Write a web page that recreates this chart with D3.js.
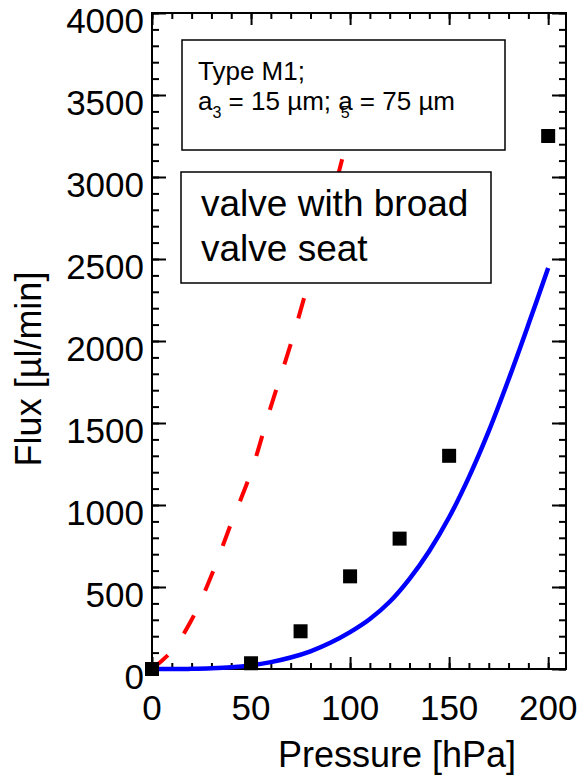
<!DOCTYPE html>
<html>
<head>
<meta charset="utf-8">
<script src="https://cdn.jsdelivr.net/npm/d3@7"></script>
<style>
  body { margin: 0; background: #fff; }
  text { font-family: "Liberation Sans", Arial, sans-serif; fill: #000; }
</style>
</head>
<body>
<svg width="584" height="777"></svg>
<script>
// pressure grid for model curves [hPa]
var modelPressure = [0, 10, 20, 30, 40, 50, 60, 70, 80, 90, 100, 110, 120, 130, 140, 150, 160, 170, 180, 190, 200];
// blue model curve, flux [ul/min]
var modelFlux = [0, 0, 1, 4, 10, 22, 42, 70, 108, 160, 225, 305, 410, 550, 720, 925, 1170, 1450, 1765, 2100, 2445];
// red dashed curve (only up to 100 hPa)
var dashPressure = [0, 10, 20, 30, 40, 50, 60, 70, 80, 90, 100];
var dashFlux = [0, 110, 300, 570, 890, 1200, 1600, 1980, 2400, 2830, 3300];
// measured points
var measPressure = [0, 50, 75, 100, 125, 150, 200];
var measFlux = [0, 35, 230, 565, 795, 1300, 3250];

var xTicks = [0, 50, 100, 150, 200];
var yTicks = [0, 500, 1000, 1500, 2000, 2500, 3000, 3500, 4000];

var svg = d3.select('svg');
var x = d3.scaleLinear().domain([0, 209]).range([152, 566]);
var y = d3.scaleLinear().domain([0, 4000]).range([669, 13]);

var minorX = d3.range(0, 210, 10);
var minorY = d3.range(0, 4001, 100);

// ticks: bottom, top, left, right (all pointing inward)
function tickAxis(axis, tr) {
    var g = svg.append('g').attr('transform', tr).call(axis);
    g.select('.domain').remove();
    g.selectAll('line').attr('stroke', '#000').attr('stroke-width', 2);
    g.selectAll('text').remove();
    return g;
}
tickAxis(d3.axisTop(x).tickValues(minorX).tickSize(6).tickFormat(''), 'translate(0,669)');
tickAxis(d3.axisTop(x).tickValues(xTicks).tickSize(12).tickFormat(''), 'translate(0,669)');
tickAxis(d3.axisBottom(x).tickValues(minorX).tickSize(6).tickFormat(''), 'translate(0,13)');
tickAxis(d3.axisBottom(x).tickValues(xTicks).tickSize(12).tickFormat(''), 'translate(0,13)');
tickAxis(d3.axisRight(y).tickValues(minorY).tickSize(7).tickFormat(''), 'translate(152,0)');
tickAxis(d3.axisRight(y).tickValues(yTicks).tickSize(14).tickFormat(''), 'translate(152,0)');
tickAxis(d3.axisLeft(y).tickValues(minorY).tickSize(7).tickFormat(''), 'translate(566,0)');
tickAxis(d3.axisLeft(y).tickValues(yTicks).tickSize(14).tickFormat(''), 'translate(566,0)');

// frame
svg.append('rect')
    .attr('x', x(0)).attr('y', y(4000))
    .attr('width', x(209) - x(0)).attr('height', y(0) - y(4000))
    .attr('fill', 'none').attr('stroke', '#000').attr('stroke-width', 2);

// tick labels
svg.append('g').selectAll('text').data(xTicks).enter().append('text')
    .attr('x', function(d) { return x(d); })
    .attr('y', 720)
    .attr('text-anchor', 'middle')
    .style('font-size', '35px')
    .text(function(d) { return d; });

svg.append('g').selectAll('text').data(yTicks).enter().append('text')
    .attr('x', 144)
    .attr('y', function(d) { return y(d) + 20; })
    .attr('text-anchor', 'end')
    .style('font-size', '35px')
    .text(function(d) { return d; });

// axis titles
svg.append('text')
    .attr('x', 397).attr('y', 767)
    .attr('text-anchor', 'middle')
    .style('font-size', '36px')
    .text('Pressure [hPa]');

svg.append('text')
    .attr('transform', 'translate(41,369) rotate(-90)')
    .attr('text-anchor', 'middle')
    .style('font-size', '36px')
    .text('Flux [µl/min]');

// curves
var line = d3.line()
    .x(function(d) { return x(d[0]); })
    .y(function(d) { return y(d[1]); })
    .curve(d3.curveCatmullRom);

svg.append('path')
    .datum(modelPressure.map(function(p, i) { return [p, modelFlux[i]]; }))
    .attr('d', line)
    .attr('fill', 'none')
    .attr('stroke', '#0000ff')
    .attr('stroke-width', 4.5);

svg.append('path')
    .datum(dashPressure.map(function(p, i) { return [p, dashFlux[i]]; }))
    .attr('d', line)
    .attr('fill', 'none')
    .attr('stroke', '#ff0000')
    .attr('stroke-width', 4)
    .attr('stroke-dasharray', '21,27');

// measured squares
svg.append('g').selectAll('rect')
    .data(measPressure.map(function(p, i) { return [p, measFlux[i]]; }))
    .enter().append('rect')
    .attr('x', function(d) { return x(d[0]) - 7; })
    .attr('y', function(d) { return y(d[1]) - 7; })
    .attr('width', 14).attr('height', 14)
    .attr('fill', '#000');

// annotation boxes
svg.append('rect')
    .attr('x', 182).attr('y', 40).attr('width', 323).attr('height', 110)
    .attr('fill', '#fff').attr('stroke', '#000').attr('stroke-width', 1.5);

svg.append('text').attr('x', 198).attr('y', 80)
    .style('font-size', '26px').text('Type M1;');

var t2 = svg.append('text').attr('x', 198).attr('y', 110).style('font-size', '26px');
t2.append('tspan').text('a');
t2.append('tspan').attr('dy', 8).style('font-size', '16px').text('3');
t2.append('tspan').attr('dy', -8).text(' = 15 µm; a');
t2.append('tspan').attr('dx', -12).attr('dy', 8).style('font-size', '16px').text('5');
t2.append('tspan').attr('dx', 3).attr('dy', -8).text(' = 75 µm');

svg.append('rect')
    .attr('x', 181).attr('y', 172).attr('width', 310).attr('height', 111)
    .attr('fill', '#fff').attr('stroke', '#000').attr('stroke-width', 1.5);

svg.append('text').attr('x', 201).attr('y', 216)
    .style('font-size', '37px').text('valve with broad');
svg.append('text').attr('x', 201).attr('y', 261)
    .style('font-size', '37px').text('valve seat');
</script>
</body>
</html>
